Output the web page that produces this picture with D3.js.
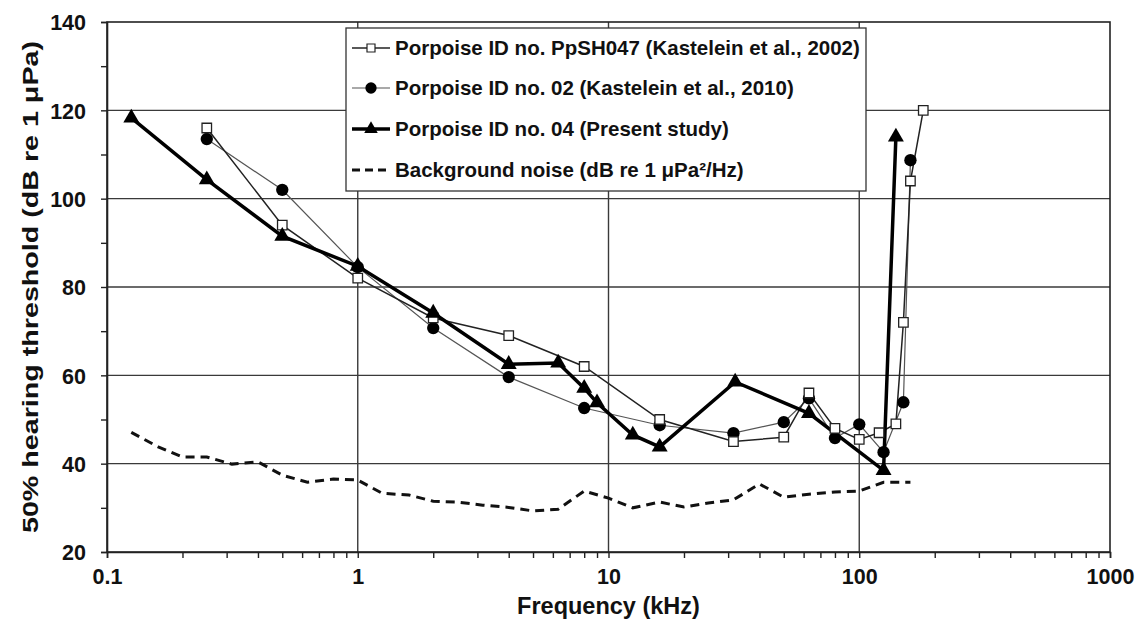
<!DOCTYPE html>
<html>
<head>
<meta charset="utf-8">
<script src="https://cdn.jsdelivr.net/npm/d3@7"></script>
<style>
  body { margin: 0; background: #fff; }
  svg text { font-family: "Liberation Sans", Arial, sans-serif; font-weight: bold; fill: #111; }
</style>
</head>
<body>
<svg id="chart" width="1143" height="625"></svg>
<script>
// ---- data ----
const sqFreq = [0.25, 0.5, 1, 2, 4, 8, 16, 31.5, 50, 63, 80, 100, 120, 140, 150, 160, 180];
const sqVals = [116, 94, 82, 73, 69, 62, 50, 45, 46, 56, 48, 45.5, 47, 49, 72, 104, 120];

const ciFreq = [0.25, 0.5, 1, 2, 4, 8, 16, 31.5, 50, 63, 80, 100, 125, 150, 160];
const ciVals = [113.5, 102, 84.5, 70.7, 59.6, 52.6, 48.7, 46.9, 49.4, 54.8, 45.8, 48.9, 42.6, 53.9, 108.7];

const trFreq = [0.125, 0.25, 0.5, 1, 2, 4, 6.3, 8, 9, 12.5, 16, 32, 63, 125, 140];
const trVals = [118.3, 104.3, 91.5, 84.7, 74.1, 62.5, 62.8, 57.1, 53.8, 46.5, 43.8, 58.5, 51.4, 38.5, 114];

const bgFreq = [0.125, 0.16, 0.2, 0.25, 0.315, 0.4, 0.5, 0.63, 0.8, 1, 1.25, 1.6, 2, 2.5, 3.15, 4, 5, 6.3, 8, 10, 12.5, 16, 20, 25, 31.5, 40, 50, 63, 80, 100, 125, 160];
const bgVals = [47.1, 43.8, 41.5, 41.5, 39.9, 40.4, 37.4, 35.8, 36.5, 36.3, 33.3, 32.9, 31.5, 31.3, 30.6, 30.1, 29.3, 29.7, 33.8, 32.2, 30.0, 31.3, 30.2, 31.1, 31.8, 35.4, 32.4, 33.1, 33.6, 33.8, 35.8, 35.8];

const xTicks = [0.1, 1, 10, 100, 1000];
const xTickLabels = ["0.1", "1", "10", "100", "1000"];
const yTicks = [20, 40, 60, 80, 100, 120, 140];
const legendLabels = [
  "Porpoise ID no. PpSH047 (Kastelein et al., 2002)",
  "Porpoise ID no. 02 (Kastelein et al., 2010)",
  "Porpoise ID no. 04 (Present study)",
  "Background noise (dB re 1 \u03bcPa\u00b2/Hz)"
];

// ---- layout ----
const L = 107, R = 1110, T = 22, B = 552;
const svg = d3.select("#chart");
const x = d3.scaleLog().domain([0.1, 1000]).range([L, R]);
const y = d3.scaleLinear().domain([20, 140]).range([B, T]);

// gridlines
const grid = svg.append("g");
grid.selectAll("line.gx").data(xTicks.slice(1, -1)).join("line")
  .attr("x1", d => x(d)).attr("x2", d => x(d)).attr("y1", T).attr("y2", B)
  .attr("stroke", "#3a3a3a").attr("stroke-width", 1.4);
grid.selectAll("line.gy").data(yTicks.slice(1, -1)).join("line")
  .attr("x1", L).attr("x2", R).attr("y1", d => y(d)).attr("y2", d => y(d))
  .attr("stroke", "#3a3a3a").attr("stroke-width", 1.4);

// frame
svg.append("rect").attr("x", L).attr("y", T).attr("width", R - L).attr("height", B - T)
  .attr("fill", "none").attr("stroke", "#222").attr("stroke-width", 1.6);

// y axis
const minorY = d3.range(20, 141, 10);
const yAxis = d3.axisLeft(y).tickValues(minorY).tickSize(6)
  .tickFormat(d => yTicks.includes(d) ? d : "");
const gy = svg.append("g").attr("transform", `translate(${L},0)`).call(yAxis);
gy.select(".domain").attr("stroke", "#222").attr("stroke-width", 1.6);
gy.selectAll(".tick line").attr("stroke", "#222").attr("stroke-width", 1.4);
gy.selectAll(".tick text").attr("font-size", 21.5).attr("x", -21).attr("dy", "0.36em");

// x axis
const minorX = [];
[0.1, 1, 10, 100].forEach(dec => { for (let k = 1; k <= 9; k++) minorX.push(dec * k); });
minorX.push(1000);
const xAxis = d3.axisBottom(x).tickValues(minorX).tickSize(6)
  .tickFormat(d => { const i = xTicks.findIndex(t => Math.abs(t - d) / t < 1e-6); return i >= 0 ? xTickLabels[i] : ""; });
const gx = svg.append("g").attr("transform", `translate(0,${B})`).call(xAxis);
gx.select(".domain").attr("stroke", "#222").attr("stroke-width", 1.6);
gx.selectAll(".tick line").attr("stroke", "#222").attr("stroke-width", 1.4);
gx.selectAll(".tick text").attr("font-size", 21.5).attr("y", 17);

// axis titles
svg.append("text").attr("x", (L + R) / 2).attr("y", 614).attr("text-anchor", "middle")
  .attr("font-size", 23.5).text("Frequency (kHz)");
svg.append("text").attr("transform", `translate(38,${(T + B) / 2}) rotate(-90)`)
  .attr("text-anchor", "middle").attr("font-size", 22)
  .attr("textLength", 492).attr("lengthAdjust", "spacingAndGlyphs")
  .text("50% hearing threshold (dB re 1 \u03bcPa)");

// series
const line = d3.line().x(d => x(d[0])).y(d => y(d[1]));
const bg = d3.zip(bgFreq, bgVals);
const sq = d3.zip(sqFreq, sqVals);
const ci = d3.zip(ciFreq, ciVals);
const tr = d3.zip(trFreq, trVals);

svg.append("path").datum(bg).attr("d", line).attr("fill", "none")
  .attr("stroke", "#111").attr("stroke-width", 3).attr("stroke-dasharray", "9,6");

svg.append("path").datum(ci).attr("d", line).attr("fill", "none")
  .attr("stroke", "#555").attr("stroke-width", 1.2);
svg.append("path").datum(sq).attr("d", line).attr("fill", "none")
  .attr("stroke", "#222").attr("stroke-width", 1.5);
svg.append("path").datum(tr).attr("d", line).attr("fill", "none")
  .attr("stroke", "#000").attr("stroke-width", 3.5);

const circSym = d3.symbol().type(d3.symbolCircle).size(120);
const sqSym = d3.symbol().type(d3.symbolSquare).size(90);
const trSym = d3.symbol().type(d3.symbolTriangle).size(110);

svg.append("g").selectAll("path").data(ci).join("path")
  .attr("transform", d => `translate(${x(d[0])},${y(d[1])})`)
  .attr("d", circSym).attr("fill", "#000");
svg.append("g").selectAll("path").data(sq).join("path")
  .attr("transform", d => `translate(${x(d[0])},${y(d[1])})`)
  .attr("d", sqSym).attr("fill", "#fff").attr("stroke", "#222").attr("stroke-width", 1.3);
svg.append("g").selectAll("path").data(tr).join("path")
  .attr("transform", d => `translate(${x(d[0])},${y(d[1])})`)
  .attr("d", trSym).attr("fill", "#000");

// legend
const lg = svg.append("g");
lg.append("rect").attr("x", 346).attr("y", 28).attr("width", 520).attr("height", 163)
  .attr("fill", "#fff").attr("stroke", "#333").attr("stroke-width", 1.3);
const rowY = [48, 88, 129, 170];
const sx1 = 352, sx2 = 390, sxm = 371;
// row 1 squares
lg.append("line").attr("x1", sx1).attr("x2", sx2).attr("y1", rowY[0]).attr("y2", rowY[0]).attr("stroke", "#222").attr("stroke-width", 1.5);
lg.append("path").attr("transform", `translate(${sxm},${rowY[0]})`).attr("d", d3.symbol().type(d3.symbolSquare).size(64)())
  .attr("fill", "#fff").attr("stroke", "#222").attr("stroke-width", 1.2);
// row 2 circles
lg.append("line").attr("x1", sx1).attr("x2", sx2).attr("y1", rowY[1]).attr("y2", rowY[1]).attr("stroke", "#555").attr("stroke-width", 1.2);
lg.append("path").attr("transform", `translate(${sxm},${rowY[1]})`).attr("d", d3.symbol().type(d3.symbolCircle).size(100)()).attr("fill", "#000");
// row 3 triangles
lg.append("line").attr("x1", sx1).attr("x2", sx2).attr("y1", rowY[2]).attr("y2", rowY[2]).attr("stroke", "#000").attr("stroke-width", 3.5);
lg.append("path").attr("transform", `translate(${sxm},${rowY[2]})`).attr("d", d3.symbol().type(d3.symbolTriangle).size(80)()).attr("fill", "#000");
// row 4 dashed
lg.append("line").attr("x1", sx1).attr("x2", sx2).attr("y1", rowY[3]).attr("y2", rowY[3]).attr("stroke", "#111").attr("stroke-width", 3).attr("stroke-dasharray", "8,5");

lg.selectAll("text.lbl").data(legendLabels).join("text")
  .attr("x", 395).attr("y", (d, i) => rowY[i]).attr("dy", "0.36em")
  .attr("font-size", 20.5).text(d => d);
</script>
</body>
</html>
